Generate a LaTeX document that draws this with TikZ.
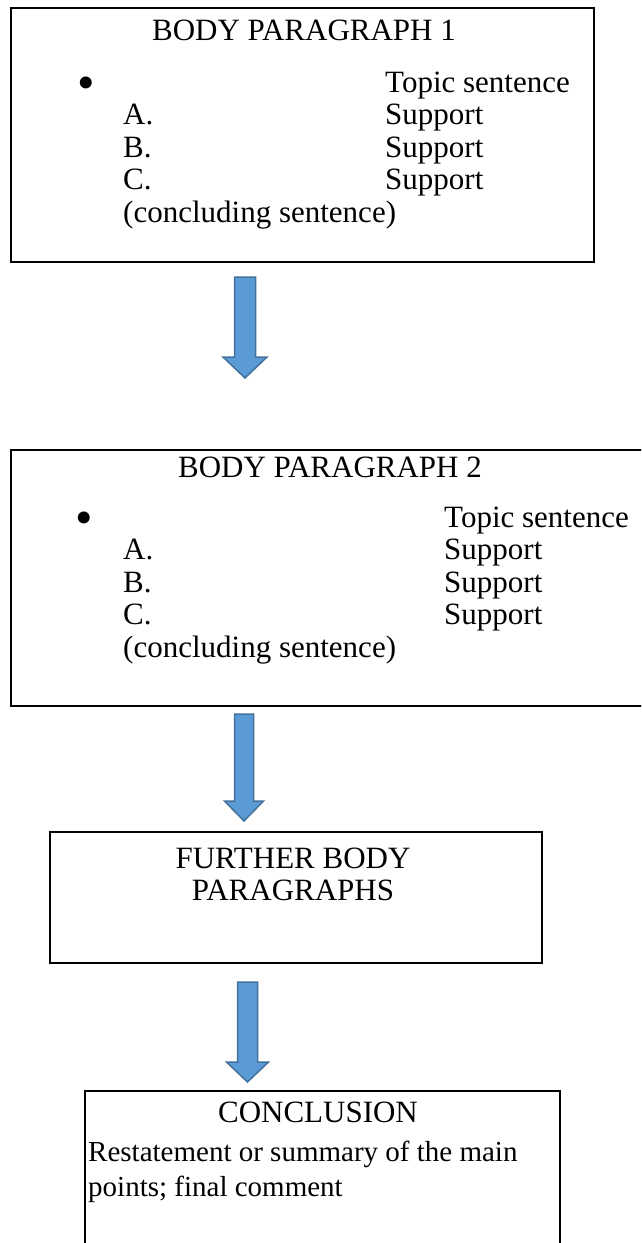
\documentclass[tikz,border=0pt]{standalone}
\usepackage{fontspec}
\setmainfont{Liberation Serif}
\usetikzlibrary{calc}
\definecolor{arrfill}{HTML}{5B9BD5}
\definecolor{arrline}{HTML}{41719C}
\begin{document}
\begin{tikzpicture}[x=1pt,y=-1pt,
  box/.style={draw=black,line width=2pt},
  txt/.style={inner sep=0pt,anchor=base west,font=\fontsize{31}{36}\selectfont},
  stxt/.style={inner sep=0pt,anchor=base west,font=\fontsize{29}{34}\selectfont},
  ctxt/.style={inner sep=0pt,anchor=base,font=\fontsize{31}{36}\selectfont},
  bullet/.style={inner sep=0pt,anchor=center,font=\fontsize{50}{50}\selectfont},
  blockarrow/.style={fill=arrfill,draw=arrline,line width=1.5pt,line join=miter}]
\useasboundingbox (0,0) rectangle (641,1243);
\clip (0,0) rectangle (641,1243);
% Box 1
\draw[box] (11,8) rectangle (594,262);
\node[ctxt] (t1) at (304,40) {BODY PARAGRAPH 1};
\node[bullet] (bul1) at (86,88) {•};
\node[txt] (ts1) at (385,92) {Topic sentence};
\node[txt] (a1) at (123,124.5) {A.};
\node[txt] (sa1) at (385,124.5) {Support};
\node[txt] (bb1) at (123,157) {B.};
\node[txt] (sb1) at (385,157) {Support};
\node[txt] (c1) at (123,189.5) {C.};
\node[txt] (sc1) at (385,189.5) {Support};
\node[txt] (cs1) at (123,222) {(concluding sentence)};
% Arrow 1
\coordinate (ar1s) at (245,277);
\coordinate (ar1e) at (245,378);
\draw[blockarrow] ($(ar1s)+(-10.5,0)$) -- ($(ar1s)+(10.5,0)$) -- ($(ar1e)+(10.5,-21)$) -- ($(ar1e)+(22,-21)$) -- (ar1e) -- ($(ar1e)+(-22,-21)$) -- ($(ar1e)+(-10.5,-21)$) -- cycle;
% Box 2
\draw[box] (660,450) -- (11,450) -- (11,706) -- (660,706);
\node[ctxt] (t2) at (330,477) {BODY PARAGRAPH 2};
\node[bullet] (bul2) at (84,523) {•};
\node[txt] (ts2) at (444,527) {Topic sentence};
\node[txt] (a2) at (123,559.5) {A.};
\node[txt] (sa2) at (444,559.5) {Support};
\node[txt] (bb2) at (123,592) {B.};
\node[txt] (sb2) at (444,592) {Support};
\node[txt] (c2) at (123,624.5) {C.};
\node[txt] (sc2) at (444,624.5) {Support};
\node[txt] (cs2) at (123,657) {(concluding sentence)};
% Arrow 2
\coordinate (ar2s) at (244,714);
\coordinate (ar2e) at (244,821);
\draw[blockarrow] ($(ar2s)+(-9.5,0)$) -- ($(ar2s)+(9.5,0)$) -- ($(ar2e)+(9.5,-20)$) -- ($(ar2e)+(19.5,-20)$) -- (ar2e) -- ($(ar2e)+(-19.5,-20)$) -- ($(ar2e)+(-9.5,-20)$) -- cycle;
% Box 3
\draw[box] (50,832) rectangle (542,963);
\node[ctxt] (t3a) at (293,868) {FURTHER BODY};
\node[ctxt] (t3b) at (293,900) {PARAGRAPHS};
% Arrow 3
\coordinate (ar3s) at (247.5,982);
\coordinate (ar3e) at (247.5,1082);
\draw[blockarrow] ($(ar3s)+(-10,0)$) -- ($(ar3s)+(10,0)$) -- ($(ar3e)+(10,-20)$) -- ($(ar3e)+(21,-20)$) -- (ar3e) -- ($(ar3e)+(-21,-20)$) -- ($(ar3e)+(-10,-20)$) -- cycle;
% Box 4
\draw[box] (85,1260) -- (85,1091) -- (560,1091) -- (560,1260);
\node[ctxt] (t4) at (318,1122) {CONCLUSION};
\node[stxt] (r4a) at (88,1161) {Restatement or summary of the main};
\node[stxt] (r4b) at (88,1196) {points; final comment};
\end{tikzpicture}
\end{document}
